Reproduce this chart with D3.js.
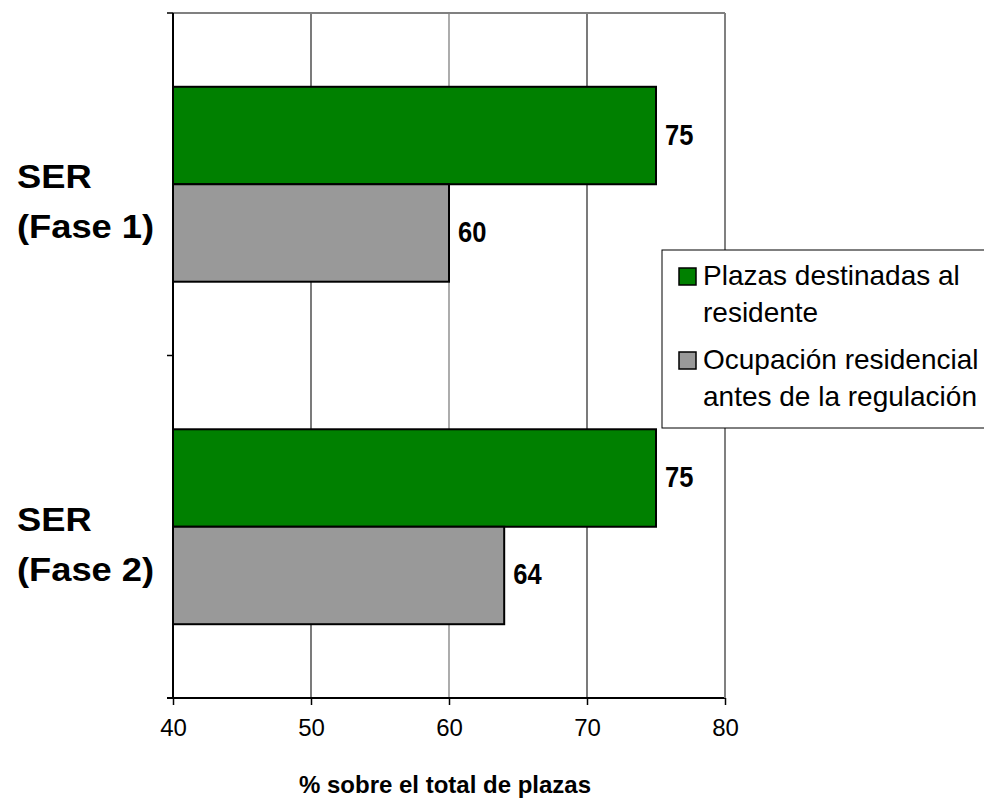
<!DOCTYPE html>
<html>
<head>
<meta charset="utf-8">
<script src="https://cdn.jsdelivr.net/npm/d3@7"></script>
<style>
    body { margin: 0; background: #fff; }
    svg { font-family: "Liberation Sans", Arial, sans-serif; }
</style>
</head>
<body>
<svg id="chart" width="984" height="800"></svg>
<script>
// chart data
var categories = ["SER (Fase 1)", "SER (Fase 2)"];
var seriesNames = ["Plazas destinadas al residente", "Ocupación residencial antes de la regulación"];
var legendLines = [["Plazas destinadas al", "residente"], ["Ocupación residencial", "antes de la regulación"]];
var plazasResidente = [75, 75];
var ocupacionPrevia = [60, 64];
var xTicks = [40, 50, 60, 70, 80];
var axisTitle = "% sobre el total de plazas";

var colors = ["#008000", "#999999"];

var svg = d3.select("#chart");
var plotLeft = 173, plotRight = 725, plotTop = 13, plotBottom = 698;

var x = d3.scaleLinear().domain([40, 80]).range([plotLeft, plotRight]);
var y = d3.scaleBand().domain(categories).range([plotTop, plotBottom]).padding(0);
var ySub = d3.scaleBand().domain(seriesNames).range([0, y.bandwidth()])
    .paddingInner(0).paddingOuter(0.757);

var rows = categories.map(function(c, i) {
    return {cat: c, values: [plazasResidente[i], ocupacionPrevia[i]]};
});

// grid lines
svg.append("g").selectAll("line")
    .data(xTicks.slice(1))
    .enter().append("line")
    .attr("x1", function(d) { return x(d); })
    .attr("x2", function(d) { return x(d); })
    .attr("y1", plotTop).attr("y2", plotBottom)
    .attr("stroke", function(d, i) { return i % 2 ? "#808080" : "#333"; })
    .attr("stroke-width", 1.3);

// top border
svg.append("line")
    .attr("x1", plotLeft).attr("x2", plotRight)
    .attr("y1", plotTop).attr("y2", plotTop)
    .attr("stroke", "#808080").attr("stroke-width", 2);

// bars
var groups = svg.append("g").selectAll("g")
    .data(rows)
    .enter().append("g")
    .attr("transform", function(d) { return "translate(0," + y(d.cat) + ")"; });

groups.selectAll("rect")
    .data(function(d) { return d.values.map(function(v, i) { return {name: seriesNames[i], value: v, i: i}; }); })
    .enter().append("rect")
    .attr("x", x(40))
    .attr("y", function(d) { return ySub(d.name); })
    .attr("width", function(d) { return x(d.value) - x(40); })
    .attr("height", ySub.bandwidth())
    .attr("fill", function(d) { return colors[d.i]; })
    .attr("stroke", "#000")
    .attr("stroke-width", 2);

// value labels
groups.selectAll("text")
    .data(function(d) { return d.values.map(function(v, i) { return {name: seriesNames[i], value: v}; }); })
    .enter().append("text")
    .attr("transform", function(d) {
        return "translate(" + (x(d.value) + 9) + "," + (ySub(d.name) + ySub.bandwidth() / 2 + 9) + ") scale(0.88,1)";
    })
    .attr("font-size", 29)
    .attr("font-weight", "bold")
    .text(function(d) { return d.value; });

// y axis
svg.append("line")
    .attr("x1", plotLeft).attr("x2", plotLeft)
    .attr("y1", plotTop).attr("y2", plotBottom)
    .attr("stroke", "#000").attr("stroke-width", 2);
svg.append("g").selectAll("line")
    .data([plotTop, plotTop + y.bandwidth(), plotBottom])
    .enter().append("line")
    .attr("x1", plotLeft - 6).attr("x2", plotLeft)
    .attr("y1", function(d) { return d; }).attr("y2", function(d) { return d; })
    .attr("stroke", "#000").attr("stroke-width", 1.5);

// category labels
var catLabels = svg.append("g").selectAll("text")
    .data(categories)
    .enter().append("text")
    .attr("transform", function(d) {
        return "translate(17," + (y(d) + y.bandwidth() / 2 + 4) + ") scale(1.1,1)";
    })
    .attr("font-size", 33)
    .attr("font-weight", "bold");
catLabels.append("tspan")
    .attr("x", 0)
    .text(function(d) { return d.split(" (")[0]; });
catLabels.append("tspan")
    .attr("x", 0)
    .attr("dy", 50)
    .text(function(d) { return "(" + d.split(" (")[1]; });

// x axis
var xAxis = svg.append("g")
    .attr("transform", "translate(0," + plotBottom + ")")
    .call(d3.axisBottom(x).tickValues(xTicks).tickSize(7).tickSizeOuter(0).tickPadding(14));
xAxis.select(".domain").attr("stroke", "#000").attr("stroke-width", 2)
    .attr("d", "M" + (plotLeft - 6) + ",0H" + plotRight);
xAxis.selectAll(".tick line").attr("stroke", "#000").attr("stroke-width", 1.5);
xAxis.selectAll(".tick text")
    .attr("font-size", 24)
    .attr("font-family", "Liberation Sans, Arial, sans-serif")
    .attr("fill", "#000");

// right border
svg.append("line")
    .attr("x1", plotRight).attr("x2", plotRight)
    .attr("y1", plotTop).attr("y2", plotBottom)
    .attr("stroke", "#808080").attr("stroke-width", 2);

svg.append("text")
    .attr("x", (plotLeft + plotRight) / 2 - 4)
    .attr("y", 793)
    .attr("text-anchor", "middle")
    .attr("font-size", 24)
    .attr("font-weight", "bold")
    .text(axisTitle);

// legend
var legend = svg.append("g").attr("transform", "translate(662,250)");
legend.append("rect")
    .attr("x", 0).attr("y", 0)
    .attr("width", 340).attr("height", 178)
    .attr("fill", "#fff").attr("stroke", "#000").attr("stroke-width", 1);

var items = legend.selectAll("g.item")
    .data(legendLines)
    .enter().append("g")
    .attr("class", "item")
    .attr("transform", function(d, i) { return "translate(0," + i * 84 + ")"; });

items.append("rect")
    .attr("x", 17).attr("y", 18)
    .attr("width", 17).attr("height", 17)
    .attr("fill", function(d, i) { return colors[i]; })
    .attr("stroke", "#000").attr("stroke-width", 1.5);

items.selectAll("text")
    .data(function(d) { return d; })
    .enter().append("text")
    .attr("x", 41)
    .attr("y", function(d, j) { return 35 + j * 37; })
    .attr("font-size", 28)
    .text(function(d) { return d; });
</script>
</body>
</html>
